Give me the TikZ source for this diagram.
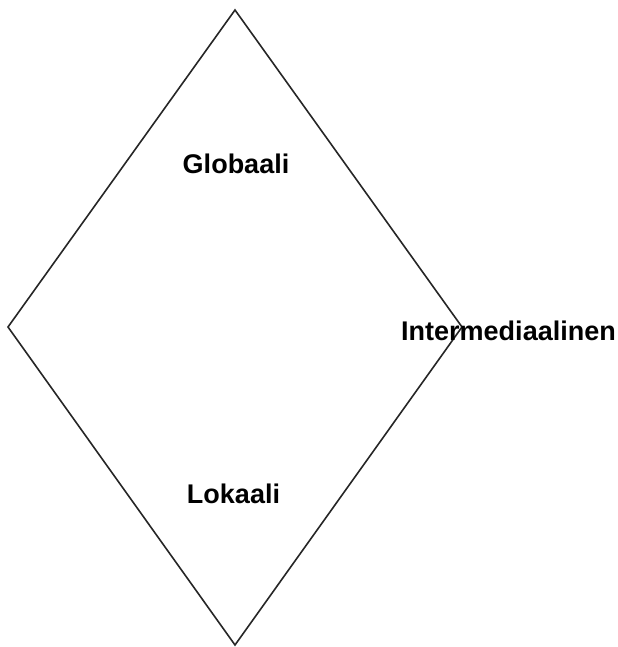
\documentclass[tikz,border=0pt]{standalone}
\usepackage{fontspec}
\setmainfont{Liberation Sans}
\begin{document}
\begin{tikzpicture}[x=1bp,y=-1bp,
  edge/.style={draw=black!85, line width=1.6bp, line join=miter},
  lbl/.style={font=\fontsize{27bp}{32bp}\selectfont\bfseries, inner sep=0pt, anchor=base, text=black}]
  \useasboundingbox (0,0) rectangle (618,647);
  % corners of the rhombus
  \coordinate (top) at (235,10);
  \coordinate (left) at (8,327);
  \coordinate (right) at (462,327);
  \coordinate (bottom) at (235,645);
  \draw[edge] (top) -- (right) -- (bottom) -- (left) -- cycle;
  % level labels
  \node[lbl] (glob) at (236,174) {Globaali};
  \node[lbl] (inter) at (508.5,340) {Intermediaalinen};
  \node[lbl] (lok) at (233.5,503) {Lokaali};
\end{tikzpicture}
\end{document}
